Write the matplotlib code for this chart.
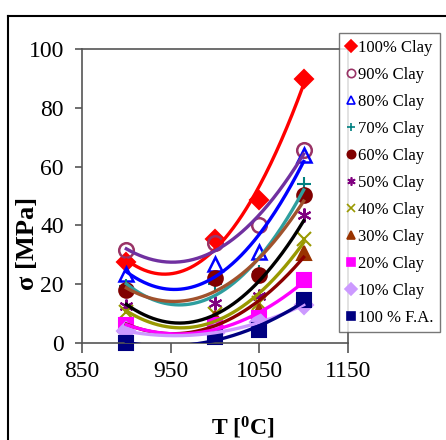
import numpy as np
import matplotlib
matplotlib.use("Agg")
import matplotlib.pyplot as plt
from matplotlib.lines import Line2D

plt.rcParams['font.family'] = ['Liberation Serif', 'DejaVu Serif']
plt.rcParams['mathtext.fontset'] = 'custom'
plt.rcParams['mathtext.rm'] = 'Liberation Serif'
plt.rcParams['mathtext.bf'] = 'Liberation Serif:bold'

T = [900, 1000, 1050, 1100]

labels = ["100% Clay", "90% Clay", "80% Clay", "70% Clay", "60% Clay", "50% Clay",
          "40% Clay", "30% Clay", "20% Clay", "10% Clay", "100 % F.A."]

clay100 = [27.7, 35.5, 48.6, 89.8]
clay90 = [31.6, 34.0, 40.1, 65.6]
clay80 = [23.5, 27.0, 31.0, 64.0]
clay70 = [19.5, 20.0, 24.0, 54.0]
clay60 = [18.0, 22.0, 23.0, 50.5]
clay50 = [12.5, 13.5, 16.0, 43.5]
clay40 = [10.5, 10.0, 13.5, 35.5]
clay30 = [6.0, 8.5, 11.0, 30.5]
clay20 = [6.0, 6.0, 8.5, 21.5]
clay10 = [4.0, 3.5, 7.0, 13.0]
fa100 = [0.0, 2.0, 4.4, 14.5]

series = [clay100, clay90, clay80, clay70, clay60, clay50, clay40, clay30, clay20, clay10, fa100]

# marker, marker colour, filled, trendline colour
styles = [
    ('D', '#FF0000', True, '#FF0000'),
    ('o', '#993366', False, '#7030A0'),
    ('^', '#0000FF', False, '#0000FF'),
    ('+', '#008080', True, '#2E9E9E'),
    ('o', '#800000', True, '#A0522D'),
    ((6, 2, 0), '#800080', True, '#000000'),
    ('x', '#999900', True, '#999900'),
    ('^', '#993300', True, '#8B0000'),
    ('s', '#FF00FF', True, '#FF00FF'),
    ('D', '#CC99FF', True, '#CC99FF'),
    ('s', '#000080', True, '#000080'),
]

fig = plt.figure(figsize=(4.46, 4.40), dpi=100)
ax = fig.add_axes([82 / 446, 1 - 343 / 440, 266 / 446, 294 / 440])

xs = np.linspace(900, 1100, 200)
handles = []
for vals, (m, mc, filled, lc), lab in zip(series, styles, labels):
    ms = 10 if m not in ('o', '^') else 10.5
    if m == 'D':
        ms = 9
    ax.plot(T, vals, linestyle='none', marker=m, markersize=ms,
            markerfacecolor=mc if filled else 'none', markeredgecolor=mc,
            markeredgewidth=1.5 if filled else 1.8, zorder=2, clip_on=False)
    coef = np.polyfit(T, vals, 2)
    ax.plot(xs, np.polyval(coef, xs), color=lc, lw=2.4, zorder=3)
    handles.append(Line2D([], [], linestyle='none', marker=m, markersize=6,
                          markerfacecolor=mc if filled else 'none', markeredgecolor=mc,
                          markeredgewidth=1.2))

ax.set_xlim(850, 1150)
ax.set_ylim(0, 100)
ax.set_xticks([850, 950, 1050, 1150])
ax.set_yticks([0, 20, 40, 60, 80, 100])
ax.tick_params(axis='both', labelsize=17, color='#555555', width=1.2)
ax.tick_params(axis='x', length=7, pad=6)
ax.tick_params(axis='y', length=5, pad=8)
for s in ax.spines.values():
    s.set_color('#555555')
    s.set_linewidth(1.2)

ax.set_ylabel('σ [MPa]', fontsize=19, fontweight='bold')
ax.yaxis.set_label_coords(-0.16, 0.34)
ax.set_xlabel('T [$\\mathbf{^{0}}$C]', fontsize=17, fontweight='bold')
ax.xaxis.set_label_coords(0.605, -0.245)

leg = fig.legend(handles, labels, loc='upper left', bbox_to_anchor=(339 / 446, 1 - 33 / 440),
                 fontsize=12, frameon=True, fancybox=False, borderaxespad=0,
                 handlelength=0.6, handletextpad=0.15, labelspacing=0.66,
                 borderpad=0.4)
leg.get_frame().set_edgecolor('#555555')
leg.get_frame().set_linewidth(1.0)

# chart area border
fig.add_artist(Line2D([8 / 446, 8 / 446], [0, 1 - 16 / 440], color='black', lw=1.5,
                      transform=fig.transFigure))
fig.add_artist(Line2D([8 / 446, 1], [1 - 16 / 440, 1 - 16 / 440], color='black', lw=1.5,
                      transform=fig.transFigure))

fig.savefig('out.png', dpi=100)
